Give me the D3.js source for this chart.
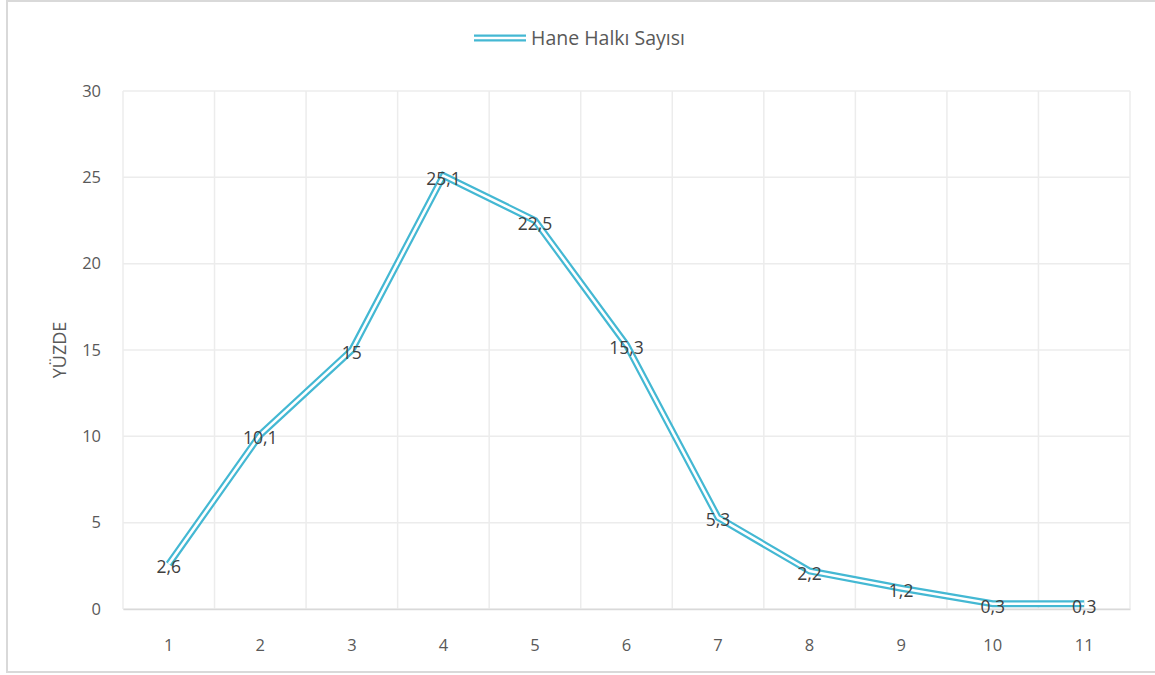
<!DOCTYPE html>
<html><head><meta charset="utf-8">
<script src="https://cdn.jsdelivr.net/npm/d3@7"></script>
<style>body{margin:0;background:#fff;} svg{display:block;}</style>
</head><body>
<svg id="c" width="1155" height="675"></svg>
<script>
const categories = ["1","2","3","4","5","6","7","8","9","10","11"];
const values = [2.6, 10.1, 15, 25.1, 22.5, 15.3, 5.3, 2.2, 1.2, 0.3, 0.3];
const valueLabels = ["2,6","10,1","15","25,1","22,5","15,3","5,3","2,2","1,2","0,3","0,3"];
const yTicks = [0, 5, 10, 15, 20, 25, 30];
const seriesName = "Hane Halkı Sayısı";
const yTitle = "YÜZDE";

const svg = d3.select("#c");
const font = "'Open Sans', 'DejaVu Sans', sans-serif";
const lineColor = "#44b8d3";
const m = {left:123, right:1130, top:91, bottom:609};

// chart border
svg.append("rect").attr("x",7).attr("y",1).attr("width",1155).attr("height",671)
  .attr("fill","none").attr("stroke","#d9d9d9").attr("stroke-width",2);

const x = d3.scaleBand().domain(categories).range([m.left, m.right]).padding(0);
const y = d3.scaleLinear().domain([0,30]).range([m.bottom, m.top]);

// horizontal gridlines
svg.append("g").selectAll("line").data(yTicks).join("line")
  .attr("x1",m.left).attr("x2",m.right)
  .attr("y1",d=>y(d)).attr("y2",d=>y(d))
  .attr("stroke","#ececec").attr("stroke-width",1.5);
// vertical gridlines at category boundaries
const bounds = categories.map(c=>x(c)).concat([m.right]);
svg.append("g").selectAll("line").data(bounds).join("line")
  .attr("x1",d=>d).attr("x2",d=>d)
  .attr("y1",m.top).attr("y2",m.bottom)
  .attr("stroke","#ececec").attr("stroke-width",1.5);

// y tick labels
const yAxis = svg.append("g").attr("transform",`translate(${m.left},0)`)
  .call(d3.axisLeft(y).tickValues(yTicks).tickSize(0).tickPadding(22));
yAxis.select(".domain").remove();
yAxis.selectAll("text").attr("font-family",font).attr("font-size",16.5).attr("fill","#595959");

// x tick labels
const xAxis = svg.append("g").attr("transform",`translate(0,${m.bottom})`)
  .call(d3.axisBottom(x).tickSize(0).tickPadding(30));
xAxis.select(".domain").attr("stroke","#d9d9d9").attr("stroke-width",1.5);
xAxis.selectAll("text").attr("font-family",font).attr("font-size",16.5).attr("fill","#595959");

// y title
svg.append("text").attr("transform",`translate(66,${(m.top+m.bottom)/2}) rotate(-90)`)
  .attr("text-anchor","middle").attr("font-family",font).attr("font-size",18)
  .attr("fill","#595959").text(yTitle);

// double line
const line = d3.line().x((d,i)=>x(categories[i])+x.bandwidth()/2).y(d=>y(d));
svg.append("path").datum(values).attr("d",line).attr("fill","none")
  .attr("stroke",lineColor).attr("stroke-width",7).attr("stroke-linejoin","miter");
svg.append("path").datum(values).attr("d",line).attr("fill","none")
  .attr("stroke","#fff").attr("stroke-width",2.6).attr("stroke-linejoin","miter");

// data labels
svg.append("g").selectAll("text").data(values).join("text")
  .attr("x",(d,i)=>x(categories[i])+x.bandwidth()/2)
  .attr("y",d=>y(d)+9)
  .attr("text-anchor","middle").attr("font-family",font).attr("font-size",17.5)
  .attr("fill","#404040").text((d,i)=>valueLabels[i]);

// legend
const lg = svg.append("g");
lg.append("line").attr("x1",474).attr("x2",526).attr("y1",38).attr("y2",38)
  .attr("stroke",lineColor).attr("stroke-width",7);
lg.append("line").attr("x1",474).attr("x2",526).attr("y1",38).attr("y2",38)
  .attr("stroke","#fff").attr("stroke-width",2.6);
lg.append("text").attr("x",531).attr("y",45).attr("font-family",font).attr("font-size",19.5)
  .attr("fill","#595959").text(seriesName);
</script>
</body></html>
